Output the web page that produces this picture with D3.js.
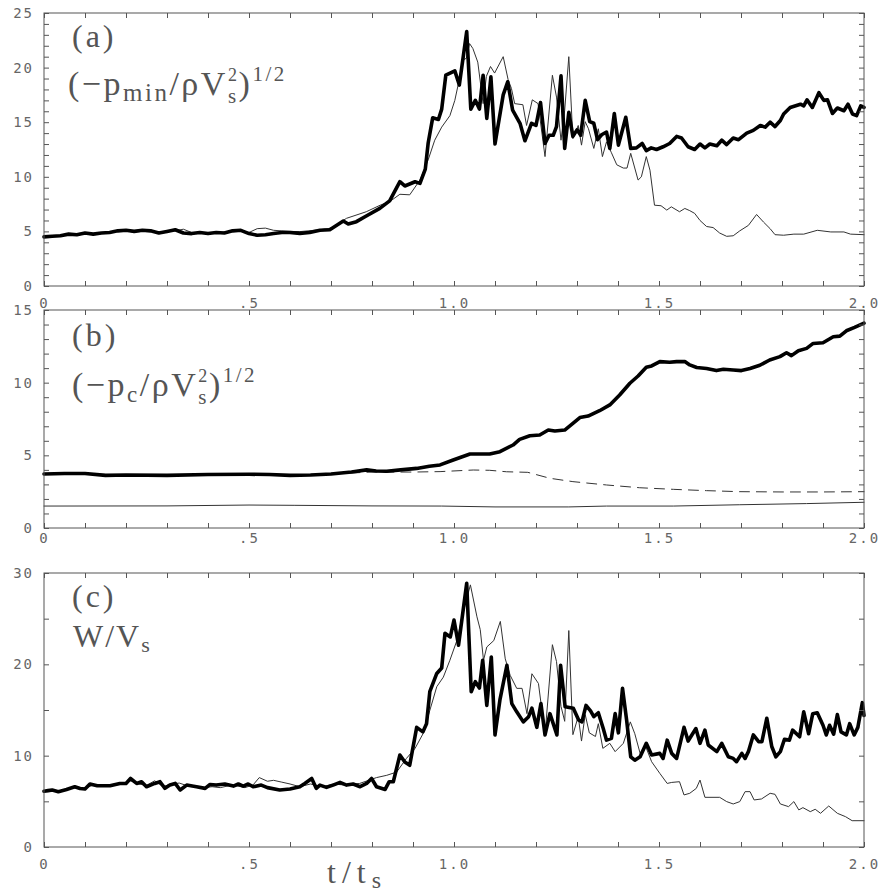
<!DOCTYPE html>
<html><head><meta charset="utf-8">
<script src="https://cdn.jsdelivr.net/npm/d3@7"></script>
<style>body{margin:0;background:#fff}</style>
</head><body><svg id="c" width="880" height="895"></svg>
<script>
// ---------- data ----------
const tTicks = [0, 0.5, 1.0, 1.5, 2.0];
const tTickLabels = ["0", ".5", "1.0", "1.5", "2.0"];
const aTickVals = [0, 5, 10, 15, 20, 25];
const aTickLabels = ["0", "5", "10", "15", "20", "25"];
const bTickVals = [0, 5, 10, 15];
const bTickLabels = ["0", "5", "10", "15"];
const cTickVals = [0, 10, 20, 30];
const cTickLabels = ["0", "10", "20", "30"];

// panel (a): (-p_min/rho Vs^2)^1/2  [t, value]
const aThick = [[0,4.5],[0.02,4.55],[0.04,4.6],[0.06,4.75],[0.08,4.7],[0.1,4.85],[0.12,4.75],[0.14,4.85],[0.16,4.9],[0.18,5.05],[0.2,5.1],[0.22,5.0],[0.24,5.1],[0.26,5.05],[0.28,4.85],[0.3,5.0],[0.32,5.15],[0.34,4.85],[0.36,4.8],[0.38,4.9],[0.4,4.8],[0.42,4.9],[0.44,4.85],[0.46,5.05],[0.48,5.1],[0.5,4.8],[0.52,4.65],[0.54,4.7],[0.56,4.8],[0.58,4.9],[0.6,4.9],[0.624,4.82],[0.648,4.9],[0.673,5.1],[0.697,5.15],[0.73,5.95],[0.742,5.68],[0.762,5.89],[0.786,6.41],[0.819,7.11],[0.843,7.8],[0.868,9.55],[0.88,9.16],[0.905,9.55],[0.917,9.4],[0.93,10.7],[0.937,13.1],[0.948,15.4],[0.962,15.25],[0.97,16.2],[0.98,19.3],[1.002,19.7],[1.013,18.4],[1.031,23.3],[1.041,16.2],[1.052,17.0],[1.062,16.2],[1.071,19.3],[1.08,15.35],[1.09,19.15],[1.1,13.0],[1.12,17.5],[1.131,18.7],[1.143,16.1],[1.161,14.9],[1.173,13.3],[1.189,14.9],[1.2,14.7],[1.211,16.8],[1.222,13.05],[1.232,13.8],[1.242,13.8],[1.25,14.6],[1.261,19.25],[1.27,12.6],[1.28,15.9],[1.29,13.7],[1.3,14.3],[1.309,13.8],[1.32,17.0],[1.331,15.05],[1.341,14.9],[1.35,13.4],[1.36,13.85],[1.372,14.1],[1.38,12.6],[1.391,15.8],[1.401,12.9],[1.419,15.45],[1.431,12.6],[1.445,12.65],[1.459,13.05],[1.469,12.4],[1.481,12.65],[1.494,12.5],[1.51,12.75],[1.526,13.05],[1.543,13.7],[1.555,13.55],[1.571,12.75],[1.587,12.5],[1.6,13.0],[1.612,12.65],[1.624,13.0],[1.641,12.85],[1.653,13.35],[1.665,12.95],[1.681,13.55],[1.694,13.4],[1.714,14.0],[1.73,14.25],[1.747,14.7],[1.759,14.55],[1.771,15.0],[1.783,14.6],[1.796,15.15],[1.804,15.75],[1.82,16.35],[1.845,16.65],[1.853,16.5],[1.861,17.05],[1.874,16.35],[1.89,17.7],[1.902,17.0],[1.911,17.05],[1.923,15.8],[1.935,16.3],[1.951,16.05],[1.961,16.65],[1.972,15.75],[1.982,15.6],[1.992,16.5],[2.0,16.35]];
const aThin = [[0,4.5],[0.02,4.6],[0.04,4.65],[0.06,4.7],[0.08,4.75],[0.1,4.8],[0.12,4.8],[0.14,4.85],[0.16,4.9],[0.18,5.0],[0.2,5.05],[0.22,4.95],[0.24,5.0],[0.26,5.1],[0.28,4.9],[0.3,4.95],[0.32,5.05],[0.34,5.2],[0.36,4.9],[0.38,4.85],[0.4,4.9],[0.42,4.8],[0.44,4.95],[0.46,5.0],[0.48,5.05],[0.5,4.9],[0.52,5.25],[0.54,5.3],[0.56,5.1],[0.58,5.05],[0.6,5.0],[0.624,4.98],[0.673,5.15],[0.7,5.3],[0.738,6.2],[0.786,6.8],[0.82,7.4],[0.844,7.75],[0.868,8.4],[0.892,8.35],[0.917,9.7],[0.937,11.55],[0.953,13.35],[0.97,14.55],[0.99,15.6],[1.002,17.0],[1.01,18.4],[1.022,20.7],[1.03,20.85],[1.038,22.2],[1.046,21.75],[1.058,20.5],[1.071,16.7],[1.079,19.2],[1.089,20.1],[1.099,19.5],[1.12,21.0],[1.132,18.9],[1.14,18.1],[1.148,16.7],[1.168,16.6],[1.177,14.7],[1.191,17.05],[1.205,16.7],[1.222,11.85],[1.24,19.3],[1.25,17.3],[1.261,13.35],[1.27,16.1],[1.28,21.0],[1.29,13.5],[1.303,14.7],[1.311,12.9],[1.32,15.05],[1.328,14.4],[1.341,12.6],[1.352,14.4],[1.362,11.85],[1.372,13.2],[1.384,12.2],[1.397,11.1],[1.413,10.8],[1.422,10.8],[1.431,12.15],[1.449,9.7],[1.457,10.0],[1.469,11.85],[1.478,10.6],[1.489,7.4],[1.505,7.35],[1.519,6.95],[1.53,7.25],[1.55,6.8],[1.563,7.1],[1.575,6.9],[1.587,6.65],[1.6,6.0],[1.616,5.45],[1.632,5.35],[1.648,4.85],[1.665,4.55],[1.681,4.6],[1.697,5.05],[1.718,5.55],[1.738,6.55],[1.755,5.85],[1.771,5.25],[1.783,4.7],[1.804,4.65],[1.829,4.75],[1.853,4.75],[1.886,5.1],[1.919,4.95],[1.951,4.95],[1.967,4.75],[2.0,4.7]];

// panel (b): (-p_c/rho Vs^2)^1/2
const bThick = [[0,3.72],[0.05,3.75],[0.1,3.75],[0.15,3.62],[0.2,3.65],[0.3,3.62],[0.4,3.68],[0.5,3.7],[0.55,3.68],[0.6,3.62],[0.65,3.65],[0.7,3.72],[0.75,3.85],[0.787,4.0],[0.81,3.92],[0.836,3.9],[0.87,4.0],[0.909,4.1],[0.94,4.25],[0.966,4.34],[0.998,4.68],[1.039,5.09],[1.087,5.09],[1.112,5.25],[1.144,5.71],[1.16,6.1],[1.185,6.35],[1.209,6.4],[1.23,6.74],[1.246,6.67],[1.27,6.74],[1.29,7.2],[1.307,7.6],[1.327,7.7],[1.355,8.07],[1.38,8.47],[1.404,9.15],[1.429,9.96],[1.449,10.46],[1.469,11.06],[1.482,11.15],[1.502,11.45],[1.526,11.4],[1.543,11.45],[1.563,11.45],[1.575,11.22],[1.592,11.04],[1.616,10.97],[1.64,10.83],[1.657,10.92],[1.681,10.87],[1.701,10.83],[1.722,10.97],[1.746,11.2],[1.77,11.56],[1.795,11.79],[1.811,12.06],[1.823,11.86],[1.84,12.2],[1.86,12.36],[1.876,12.7],[1.9,12.75],[1.925,13.16],[1.941,13.2],[1.957,13.57],[1.977,13.8],[2.0,14.09]];
const bDashed = [[0,3.72],[0.1,3.72],[0.2,3.65],[0.3,3.65],[0.4,3.7],[0.5,3.7],[0.6,3.65],[0.7,3.72],[0.8,3.85],[0.9,3.85],[0.966,3.88],[1.047,3.99],[1.087,3.97],[1.128,3.87],[1.18,3.83],[1.234,3.42],[1.29,3.19],[1.372,2.96],[1.453,2.77],[1.535,2.66],[1.616,2.57],[1.697,2.5],[1.8,2.48],[1.9,2.48],[2.0,2.5]];
const bThin = [[0,1.51],[0.3,1.52],[0.5,1.58],[0.61,1.56],[0.8,1.52],[0.97,1.51],[1.1,1.45],[1.28,1.45],[1.372,1.51],[1.535,1.51],[1.697,1.6],[1.86,1.68],[2.0,1.77]];

// panel (c): W/Vs
const cThick = [[0,6.1],[0.01,6.17],[0.02,6.24],[0.035,6.06],[0.055,6.3],[0.075,6.6],[0.088,6.4],[0.1,6.35],[0.112,6.9],[0.13,6.7],[0.161,6.7],[0.185,6.96],[0.2,6.96],[0.211,7.5],[0.226,6.96],[0.238,7.15],[0.25,6.6],[0.27,6.96],[0.283,7.15],[0.295,6.42],[0.307,6.78],[0.32,6.96],[0.332,6.24],[0.348,6.78],[0.372,6.6],[0.393,6.42],[0.405,6.85],[0.42,6.78],[0.441,6.9],[0.462,6.67],[0.474,6.9],[0.486,6.67],[0.498,6.9],[0.51,6.6],[0.53,6.78],[0.545,6.5],[0.575,6.24],[0.6,6.35],[0.624,6.6],[0.636,6.96],[0.653,7.5],[0.664,6.42],[0.673,6.78],[0.689,6.53],[0.705,6.78],[0.722,7.07],[0.738,6.78],[0.754,6.9],[0.771,6.6],[0.787,6.96],[0.799,7.5],[0.811,6.6],[0.832,6.3],[0.842,7.15],[0.852,7.15],[0.868,10.07],[0.88,9.3],[0.892,8.95],[0.909,13.1],[0.924,12.6],[0.933,13.5],[0.941,17.0],[0.958,19.0],[0.97,19.6],[0.978,23.4],[0.991,23.0],[1.0,24.85],[1.011,22.1],[1.031,28.87],[1.042,17.0],[1.052,18.1],[1.062,17.4],[1.07,20.45],[1.08,15.5],[1.091,20.8],[1.1,12.27],[1.112,16.1],[1.129,19.9],[1.141,15.7],[1.153,14.8],[1.169,13.7],[1.182,14.27],[1.19,15.2],[1.202,13.1],[1.212,15.7],[1.222,12.27],[1.234,14.6],[1.251,12.27],[1.26,19.9],[1.271,15.35],[1.291,15.2],[1.304,13.9],[1.312,13.7],[1.322,15.5],[1.333,14.9],[1.341,14.27],[1.352,14.7],[1.364,12.97],[1.372,11.7],[1.384,11.9],[1.393,14.6],[1.401,12.5],[1.411,17.37],[1.421,13.9],[1.431,9.88],[1.441,9.5],[1.454,9.88],[1.469,11.35],[1.482,10.07],[1.502,10.25],[1.51,9.7],[1.52,11.7],[1.531,10.25],[1.543,9.7],[1.561,13.1],[1.571,11.6],[1.59,12.97],[1.6,11.35],[1.612,12.8],[1.62,11.17],[1.641,10.44],[1.653,11.35],[1.669,9.88],[1.681,9.7],[1.689,9.34],[1.702,10.25],[1.71,9.7],[1.718,10.44],[1.73,12.27],[1.743,11.53],[1.751,11.53],[1.763,14.1],[1.775,11.0],[1.785,9.88],[1.796,10.44],[1.806,11.8],[1.818,11.7],[1.826,12.8],[1.843,12.07],[1.853,14.8],[1.865,12.4],[1.875,14.6],[1.886,14.7],[1.9,13.33],[1.908,12.27],[1.916,13.33],[1.926,12.35],[1.935,14.5],[1.944,12.6],[1.957,12.27],[1.965,13.5],[1.976,12.27],[1.985,13.1],[1.996,15.8],[2.0,14.4]];
const cThin = [[0,6.1],[0.02,6.2],[0.04,6.1],[0.06,6.35],[0.08,6.5],[0.1,6.4],[0.12,6.8],[0.14,6.75],[0.16,6.7],[0.18,6.9],[0.2,6.95],[0.21,7.3],[0.23,6.9],[0.25,6.75],[0.27,7.25],[0.29,6.6],[0.31,6.9],[0.33,7.0],[0.35,6.7],[0.37,6.65],[0.39,6.5],[0.41,6.6],[0.43,6.5],[0.45,6.7],[0.47,6.7],[0.49,6.5],[0.51,6.8],[0.525,7.6],[0.545,7.2],[0.56,7.3],[0.58,7.1],[0.6,6.9],[0.624,6.6],[0.65,6.9],[0.68,6.6],[0.705,6.9],[0.73,6.8],[0.77,6.96],[0.811,7.6],[0.836,7.85],[0.86,8.2],[0.884,9.7],[0.905,10.8],[0.925,12.45],[0.941,14.95],[0.958,17.55],[0.974,18.6],[0.99,20.45],[1.007,22.6],[1.023,25.8],[1.04,28.7],[1.056,25.2],[1.064,23.8],[1.072,20.45],[1.08,21.9],[1.097,22.6],[1.113,24.7],[1.125,20.6],[1.137,18.8],[1.153,17.37],[1.166,17.37],[1.178,14.6],[1.19,18.97],[1.206,17.9],[1.222,12.3],[1.24,22.15],[1.25,20.3],[1.261,15.4],[1.27,13.76],[1.28,23.7],[1.29,12.3],[1.303,14.3],[1.311,11.6],[1.32,14.5],[1.33,12.5],[1.345,12.1],[1.352,13.5],[1.363,10.8],[1.38,11.35],[1.393,10.44],[1.413,11.35],[1.43,13.7],[1.441,12.4],[1.454,10.25],[1.466,11.17],[1.482,9.34],[1.502,8.06],[1.52,6.96],[1.531,7.07],[1.55,7.15],[1.561,5.7],[1.575,5.88],[1.591,6.42],[1.6,7.33],[1.612,5.44],[1.648,5.44],[1.665,4.97],[1.681,4.71],[1.697,4.97],[1.71,6.06],[1.722,6.06],[1.732,5.15],[1.75,5.26],[1.771,5.88],[1.783,5.77],[1.796,4.71],[1.816,4.42],[1.829,4.97],[1.841,4.06],[1.851,4.31],[1.869,3.87],[1.881,4.13],[1.894,3.69],[1.914,4.49],[1.935,3.69],[1.955,3.32],[1.971,2.88],[2.0,2.88]];

// ---------- drawing ----------
const svg = d3.select("#c");
const X0 = 44, X1 = 864;
const x = d3.scaleLinear().domain([0, 2]).range([X0, X1]);
const frameColor = "#555", labelColor = "#666", textColor = "#555";
const monoFont = "'DejaVu Sans Mono', monospace";
const serifFont = "'Liberation Serif', 'Times New Roman', serif";

const panels = [
  {top: 13, bottom: 286, max: 25, minor: 1, tickVals: aTickVals, tickLabels: aTickLabels, xPad: 12,
   series: [{data: aThin, w: 1, dash: null}, {data: aThick, w: 3.6, dash: null}]},
  {top: 310, bottom: 528, max: 15, minor: 1, tickVals: bTickVals, tickLabels: bTickLabels, xPad: 5,
   series: [{data: bThin, w: 1, dash: null}, {data: bDashed, w: 1, dash: "10,7"}, {data: bThick, w: 3.6, dash: null}]},
  {top: 573, bottom: 847, max: 30, minor: 5, tickVals: cTickVals, tickLabels: cTickLabels, xPad: 12,
   series: [{data: cThin, w: 1, dash: null}, {data: cThick, w: 3.6, dash: null}]}
];

function styleTicks(g) {
  g.select(".domain").remove();
  g.selectAll(".tick line").attr("stroke", frameColor).attr("stroke-width", 1);
}
function styleLabels(g) {
  g.select(".domain").remove();
  g.selectAll(".tick line").remove();
  g.selectAll(".tick text").attr("fill", labelColor).style("font-family", monoFont)
    .style("font-size", "14px").style("letter-spacing", "2px");
}

const minorT = d3.range(0, 21).map(i => i / 10);

panels.forEach(p => {
  const y = d3.scaleLinear().domain([0, p.max]).range([p.bottom, p.top]);
  const g = svg.append("g");
  const minorY = d3.range(0, p.max + 0.001, p.minor);

  const line = d3.line().x(d => x(d[0])).y(d => y(d[1]));
  p.series.forEach(s => {
    g.append("path").datum(s.data).attr("d", line)
      .attr("fill", "none").attr("stroke", s.w > 2 ? "#000" : "#333")
      .attr("stroke-width", s.w).attr("stroke-linejoin", "round").attr("stroke-linecap", "round")
      .attr("stroke-dasharray", s.dash);
  });

  g.append("rect").attr("x", X0).attr("y", p.top).attr("width", X1 - X0).attr("height", p.bottom - p.top)
    .attr("fill", "none").attr("stroke", frameColor).attr("stroke-width", 1);

  g.append("g").attr("transform", `translate(0,${p.bottom})`)
    .call(d3.axisBottom(x).tickValues(minorT).tickSize(-5).tickFormat("")).call(styleTicks);
  g.append("g").attr("transform", `translate(0,${p.top})`)
    .call(d3.axisTop(x).tickValues(minorT).tickSize(-5).tickFormat("")).call(styleTicks);
  g.append("g").attr("transform", `translate(${X0},0)`)
    .call(d3.axisLeft(y).tickValues(minorY).tickSize(-5).tickFormat("")).call(styleTicks);
  g.append("g").attr("transform", `translate(${X1},0)`)
    .call(d3.axisRight(y).tickValues(minorY).tickSize(-5).tickFormat("")).call(styleTicks);

  g.append("g").attr("transform", `translate(${X0},0)`)
    .call(d3.axisLeft(y).tickValues(p.tickVals).tickFormat((d, i) => p.tickLabels[i]).tickSize(0).tickPadding(10))
    .call(styleLabels);
  g.append("g").attr("transform", `translate(0,${p.bottom})`)
    .call(d3.axisBottom(x).tickValues(tTicks).tickFormat((d, i) => tTickLabels[i]).tickSize(0).tickPadding(p.xPad))
    .call(styleLabels);
});

// ---------- text labels ----------
function label(xp, yp, parts, size, ls) {
  const t = svg.append("text").attr("x", xp).attr("y", yp)
    .attr("fill", textColor).style("font-family", serifFont).style("font-size", size + "px")
    .style("letter-spacing", (ls == null ? 2 : ls) + "px");
  parts.forEach(pt => {
    const s = t.append("tspan").text(pt.t);
    if (pt.dy) s.attr("dy", pt.dy);
    if (pt.dx) s.attr("dx", pt.dx);
    if (pt.fs) s.style("font-size", pt.fs + "px");
  });
}
label(72, 47, [{t: "(a)"}], 32, 3);
label(68, 95, [
  {t: "(−p"}, {t: "min", dy: 6, fs: 25}, {t: "/ρV", dy: -6}, {t: "2", dy: -14, fs: 18},
  {t: "s", dx: -11.5, dy: 22, fs: 21}, {t: ")", dy: -8}, {t: "1/2", dy: -14, fs: 21}
], 34, 2.5);

label(72, 346, [{t: "(b)"}], 32, 3);
label(72, 396, [
  {t: "(−p"}, {t: "c", dy: 6, fs: 23}, {t: "/ρV", dy: -6}, {t: "2", dy: -14, fs: 18},
  {t: "s", dx: -11.5, dy: 22, fs: 21}, {t: ")", dy: -8}, {t: "1/2", dy: -14, fs: 21}
], 34, 2.5);

label(72, 607, [{t: "(c)"}], 32, 3);
label(73, 647, [{t: "W/V"}, {t: "s", dy: 5, fs: 22}], 32, 2);

label(327, 883, [{t: "t/t"}, {t: "s", dy: 5, fs: 24}], 32, 6);
</script></body></html>
